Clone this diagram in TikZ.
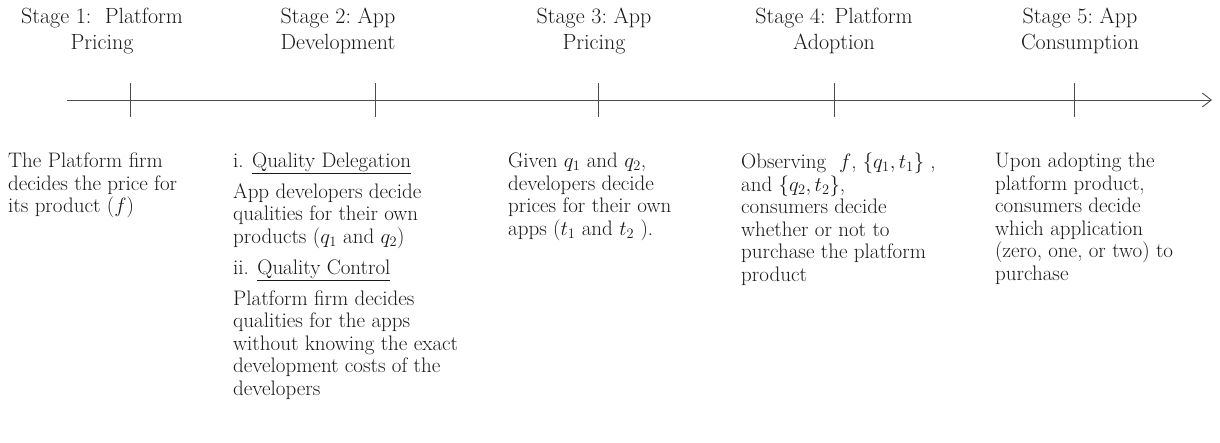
\documentclass[tikz,border=0pt]{standalone}
\usepackage{xcolor}
\usepackage{tikz}
\usetikzlibrary{positioning,arrows.meta}
\colorlet{strokeColor}{black!70}
\colorlet{textColor}{black!90}

\tikzset{
  stageLabel/.style={align=center, anchor=north, inner sep=0pt, color=textColor,
    font=\fontsize{22}{26}\selectfont},
  stageText/.style={align=left, anchor=north west, inner sep=0pt, color=textColor,
    font=\fontsize{21}{22.5}\selectfont},
  tickMark/.style={color=strokeColor, line width=0.9pt},
}

\begin{document}
\begin{tikzpicture}[x=1pt, y=-1pt]
    \useasboundingbox (0,0) rectangle (1220,442);
    \begin{scope}
      \coordinate (axisStart) at (67,100);
      \coordinate (axisEnd) at (1212,100);
      \draw[
        color=strokeColor,
        line width=0.9pt,
        -{Straight Barb[length=9pt, width=14pt]},
      ] (axisStart) -- (axisEnd);
      \foreach \x in {130, 375, 598, 834, 1074} {
        \draw[tickMark] (\x,83) -- (\x,117);
      }
    \end{scope}
    % stage headings
    \node[stageLabel] (stageOne) at (102,8) {Stage 1:\ \ Platform\\Pricing};
    \node[stageLabel] (stageTwo) at (338,8) {Stage 2:\ App\\Development};
    \node[stageLabel] (stageThree) at (594,8) {Stage 3:\ App\\Pricing};
    \node[stageLabel] (stageFour) at (834,8) {Stage 4: Platform\\Adoption};
    \node[stageLabel] (stageFive) at (1080,8) {Stage 5:\ App\\Consumption};
    % stage texts
    \node[stageText] (textOne) at (8,153) {%
      The Platform firm\\decides the price for\\its product ($f$)};
    \node[stageText] (delegation) at (233,153) {i. \underline{Quality Delegation}};
    \node[stageText, below=9pt of delegation.south west, anchor=north west] (delegationText) {%
      App developers decide\\qualities for their own\\products ($q_1$ and $q_2$)};
    \node[stageText, below=11pt of delegationText.south west, anchor=north west] (control) {%
      ii. \underline{Quality Control}};
    \node[stageText, below=9pt of control.south west, anchor=north west] (controlText) {%
      Platform firm decides\\qualities for the apps\\without knowing the exact\\%
      development costs of the\\developers};
    \node[stageText] (textThree) at (508,153) {%
      Given $q_1$ and $q_2$,\\developers decide\\prices for their own\\apps ($t_1$ and $t_2$\ ).};
    \node[stageText] (textFour) at (741,153) {%
      Observing\ \ $f$, $\{q_1, t_1\}$\ ,\\and $\{q_2, t_2\}$,\\consumers decide\\%
      whether or not to\\purchase the platform\\product};
    \node[stageText] (textFive) at (995,153) {%
      Upon adopting the\\platform product,\\consumers decide\\which application\\%
      (zero, one, or two) to\\purchase};
  \end{tikzpicture}
\end{document}
